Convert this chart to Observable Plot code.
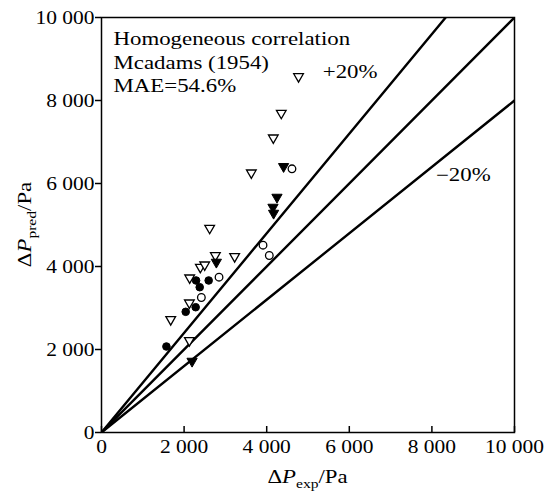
<!DOCTYPE html>
<html><head><meta charset="utf-8">
<script src="https://cdn.jsdelivr.net/npm/d3@7"></script>
<script src="https://cdn.jsdelivr.net/npm/@observablehq/plot@0.6"></script>
<style>body{margin:0;background:#fff} svg text{font-family:"Liberation Serif","Times New Roman",serif}</style>
</head><body><div id="chart"></div>
<script>
const xTicks = [0, 2000, 4000, 6000, 8000, 10000];
const yTicks = [0, 2000, 4000, 6000, 8000, 10000];

const openTriExp  = [4771, 4353, 4160, 3628, 2619, 2757, 3224, 2394, 2499, 2135, 2128, 1676, 2128];
const openTriPred = [8578, 7694, 7101, 6258, 4923, 4265, 4241, 3983, 4041, 3728, 3125, 2723, 2217];
const filledTriExp  = [4409, 4249, 4152, 4167, 2781, 2193];
const filledTriPred = [6410, 5670, 5429, 5284, 4104, 1718];
const openCircExp  = [4612, 3911, 4063, 2846, 2418];
const openCircPred = [6354, 4513, 4265, 3742, 3253];
const filledCircExp  = [2290, 2595, 2378, 2039, 2280, 1572];
const filledCircPred = [3663, 3663, 3501, 2908, 3019, 2072];

const refRatios = [1.2, 1, 0.8];
const bandLabels = ["+20%", "\u221220%"];
const bandLabelExp = [6020, 8760];
const bandLabelPred = [8680, 6210];
const annotation = ["Homogeneous correlation", "Mcadams (1954)", "MAE=54.6%"];

const pts = (xs, ys) => xs.map((x, i) => ({exp: x, pred: ys[i]}));
const refLines = refRatios.flatMap(r => [{r, exp: 0, pred: 0}, {r, exp: 10000, pred: 10000 * r}]);
const fmt = d => d3.format(",")(d).replace(/,/g, " ");

const plot = Plot.plot({
  width: 552, height: 492,
  marginLeft: 101, marginRight: 38, marginTop: 17, marginBottom: 60,
  style: {fontFamily: '"Liberation Serif", "Times New Roman", serif', fontSize: "19px", background: "#fff", color: "#000"},
  x: {domain: [0, 10000]},
  y: {domain: [0, 10000]},
  marks: [
    Plot.line(refLines, {x: "exp", y: "pred", z: "r", stroke: "#000", strokeWidth: 2.4, clip: true}),
    Plot.frame({stroke: "#000", strokeWidth: 1.5}),
    Plot.ruleX(xTicks, {x: d => d, y1: () => 0, y2: () => 0, insetTop: -6, stroke: "#000", strokeWidth: 1.5}),
    Plot.axisX(xTicks, {tickSize: 0, tickPadding: 7, tickFormat: fmt, label: null}),
    Plot.axisY(yTicks, {tickSize: 6, tickPadding: 1, tickFormat: fmt, label: null, strokeWidth: 1.5}),
    Plot.dot(pts(openTriExp, openTriPred), {x: "exp", y: "pred", symbol: "triangle", rotate: 180, r: 3.6, stroke: "#000", fill: "#fff", strokeWidth: 1.3}),
    Plot.dot(pts(openCircExp, openCircPred), {x: "exp", y: "pred", symbol: "circle", r: 3.8, stroke: "#000", fill: "#fff", strokeWidth: 1.3}),
    Plot.dot(pts(filledCircExp, filledCircPred), {x: "exp", y: "pred", symbol: "circle", r: 3.8, stroke: "#000", fill: "#000", strokeWidth: 1}),
    Plot.dot(pts(filledTriExp, filledTriPred), {x: "exp", y: "pred", symbol: "triangle", rotate: 180, r: 3.8, stroke: "#000", fill: "#000", strokeWidth: 1}),
    Plot.text([annotation.join("\n")], {frameAnchor: "top-left", dx: 12, dy: 11, textAnchor: "start", lineAnchor: "top", lineHeight: 1.3, fontSize: 18, fill: "#000"}),
    Plot.text(bandLabels, {x: (d, i) => bandLabelExp[i], y: (d, i) => bandLabelPred[i], text: d => d, fontSize: 18, fill: "#000"})
  ]
});
document.getElementById("chart").append(plot);

const svg = d3.select(plot);
const xs = plot.scale("x"), ys = plot.scale("y");

function axisLabel(sub) {
  const t = svg.append("text").attr("fill", "#000").attr("text-anchor", "middle")
    .style("font-size", "19px").style("font-family", '"Liberation Serif", "Times New Roman", serif');
  t.append("tspan").text("\u0394");
  t.append("tspan").attr("font-style", "italic").text("P");
  t.append("tspan").attr("font-size", "13px").attr("dy", "5").text(sub);
  t.append("tspan").attr("dy", "-5").text("/Pa");
  return t;
}
axisLabel("exp").attr("transform", `translate(${xs.apply(5000)},${ys.apply(0) + 51})`).classed("axlab", true);
axisLabel("pred").attr("transform", `translate(${xs.apply(0) - 70},${ys.apply(5000)}) rotate(-90)`).classed("axlab", true);

function stretch(el, s) {
  const x = +el.getAttribute("x") || 0, y = +el.getAttribute("y") || 0;
  const tf = el.getAttribute("transform") || "";
  el.setAttribute("transform", `${tf} translate(${x},${y}) scale(${s},1) translate(${-x},${-y})`);
}
plot.querySelectorAll('g[aria-label$="tick label"] text').forEach(el => stretch(el, 1.13));
plot.querySelectorAll('g[aria-label="text"] text').forEach(el => stretch(el, 1.27));
plot.querySelectorAll('text.axlab').forEach(el => stretch(el, 1.2));
</script>
</body></html>
